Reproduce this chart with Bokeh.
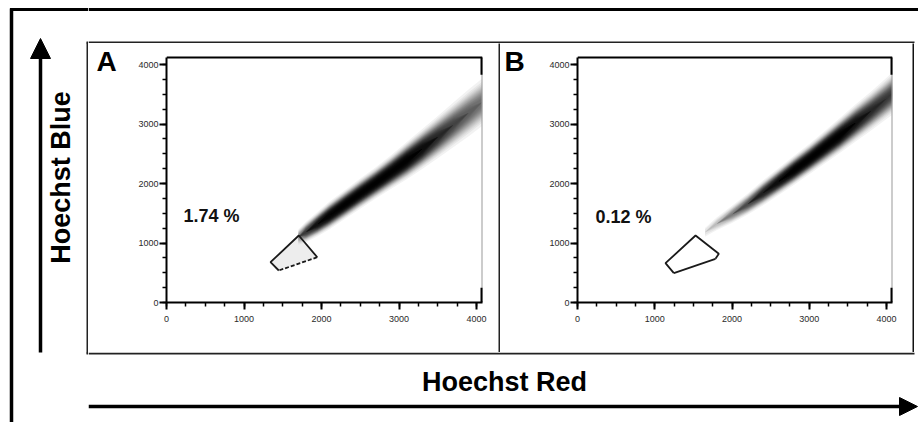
import numpy as np
from bokeh.plotting import figure
from bokeh.layouts import row, column
from bokeh.models import Range1d, LinearAxis, FixedTicker, Arrow, NormalHead
from bokeh.core.properties import value
from bokeh.embed import file_html
from bokeh.resources import INLINE

FONT = "Liberation Sans"

# ---------------- data ----------------
x_axis_title = "Hoechst Red"
y_axis_title = "Hoechst Blue"
panel_letters = ["A", "B"]
gate_percent = ["1.74 %", "0.12 %"]
axis_ticks = [0, 1000, 2000, 3000, 4000]
minor_step = 250

# Panel A
gate_a_x = [1449, 1342, 1707, 1945]
gate_a_y = [538, 677, 1126, 761]
ridge_a_x = [1700, 1800, 1950, 2100, 2300, 2500, 2700, 2900, 3100, 3300, 3500, 3700, 3900, 4077]
ridge_a_y = [1100, 1185, 1320, 1460, 1645, 1830, 2010, 2195, 2385, 2580, 2780, 2985, 3190, 3370]
ridge_a_level = [0.22, 0.45, 0.75, 0.95, 1.0, 1.0, 1.0, 1.0, 1.0, 0.8, 0.55, 0.4, 0.31, 0.26]
ridge_a_spread = [80, 95, 105, 115, 120, 125, 130, 140, 155, 170, 190, 210, 230, 240]
pct_a_pos = (219, 1462)

# Panel B
gate_b_x = [1247, 1139, 1528, 1829, 1786]
gate_b_y = [493, 661, 1126, 818, 734]
ridge_b_x = [1650, 1800, 2000, 2200, 2400, 2600, 2800, 3000, 3200, 3400, 3600, 3800, 4000, 4078]
ridge_b_y = [1180, 1320, 1480, 1650, 1840, 2030, 2220, 2410, 2610, 2810, 3020, 3220, 3430, 3515]
ridge_b_level = [0.05, 0.1, 0.22, 0.37, 0.6, 0.8, 1.0, 1.0, 1.0, 1.0, 0.75, 0.55, 0.45, 0.42]
ridge_b_spread = [70, 80, 90, 100, 110, 115, 120, 125, 135, 145, 160, 175, 190, 200]
pct_b_pos = (233, 1440)

# ---------------- layout constants ----------------
X_END = 4077      # right edge of the plotting frame
Y_BORDER = 4118   # top border line of each plot
Y_TOP = 4353      # frame top (row top)
PANEL_H = 309
DARK = "#222222"


def blank(w, h, x0, x1, y0, y1, bg="white", free=False):
    kw = dict(frame_align=False) if free else {}
    f = figure(width=w, height=h, x_range=Range1d(x0, x1), y_range=Range1d(y0, y1),
               output_backend="svg", toolbar_location=None, tools="",
               x_axis_location=None, y_axis_location=None,
               min_border=0, min_border_left=0, min_border_right=0,
               min_border_top=0, min_border_bottom=0,
               background_fill_color=bg, border_fill_color=bg,
               outline_line_color=None, **kw)
    f.grid.visible = False
    return f


def style_axis(ax, standoff):
    ax.axis_line_color = "black"
    ax.axis_line_width = 2
    ax.major_tick_line_color = "black"
    ax.major_tick_line_width = 2
    ax.major_tick_out = 7
    ax.major_tick_in = 0
    ax.minor_tick_line_color = "black"
    ax.minor_tick_line_width = 1.5
    ax.minor_tick_out = 4
    ax.minor_tick_in = 0
    ax.major_label_text_font = FONT
    ax.major_label_text_font_size = "9px"
    ax.major_label_text_color = "#2a2a2a"
    ax.major_label_standoff = standoff


def panel(width, left, right, pct, pct_pos, gx, gy, gate_fill, gate_dash, rx, ry, rlvl, rspr):
    p = figure(width=width, height=PANEL_H, x_range=Range1d(0, X_END), y_range=Range1d(0, Y_TOP),
               output_backend="svg", toolbar_location=None, tools="",
               x_axis_location=None, y_axis_location=None,
               min_border_left=left, min_border_right=right, min_border_top=0, min_border_bottom=50,
               background_fill_color="white", border_fill_color="white",
               outline_line_color=None)
    p.grid.visible = False

    minor = list(range(axis_ticks[0], axis_ticks[-1] + 1, minor_step))
    xb = LinearAxis(ticker=FixedTicker(ticks=axis_ticks, minor_ticks=minor))
    style_axis(xb, 6)
    p.add_layout(xb, "below")
    yl = LinearAxis(ticker=FixedTicker(ticks=axis_ticks, minor_ticks=minor), bounds=(0, Y_BORDER))
    style_axis(yl, 1)
    p.add_layout(yl, "left")

    # density ridge, drawn as stacked iso-density bands
    rx = np.array(rx, float)
    ry = np.array(ry, float)
    rlvl = np.array(rlvl, float)
    rspr = np.array(rspr, float)
    K = 60
    for k in range(1, K + 1):
        t = k / (K + 1)
        h = rspr * np.sqrt(np.log(np.maximum(rlvl / t, 1.0)))
        if h.max() <= 0:
            continue
        p.varea(x=rx, y1=ry - h, y2=ry + h, fill_color="black", fill_alpha=0.05)

    # plot border: black top, grey right with black corner marks
    p.segment(x0=[X_END], y0=[0], x1=[X_END], y1=[Y_BORDER], line_color="#9a9a9a", line_width=2)
    p.segment(x0=[0], y0=[Y_BORDER], x1=[X_END], y1=[Y_BORDER], line_color="black", line_width=2)
    p.segment(x0=[X_END, X_END], y0=[Y_BORDER, 0], x1=[X_END, X_END],
              y1=[Y_BORDER * 0.93, Y_BORDER * 0.06], line_color="black", line_width=4)

    # gate
    p.patch(gx, gy, fill_color="#b8b8b8", fill_alpha=gate_fill, line_color=None)
    p.line(gx, gy, line_color="#1a1a1a", line_width=1.8)
    p.line([gx[-1], gx[0]], [gy[-1], gy[0]], line_color="#1a1a1a", line_width=1.8, line_dash=gate_dash)

    p.text(x=[pct_pos[0]], y=[pct_pos[1]], text=[pct], text_font=value(FONT),
           text_font_style="bold", text_font_size="18px", text_color="#111111",
           text_align="left", text_baseline="middle")
    return p


def letter_strip(w, x0, letter, lx):
    s = blank(w, PANEL_H, x0, x0 + w, 352, 43, free=True)
    s.text(x=[lx], y=[61], text=[letter], text_font=value(FONT), text_font_size="28px",
           text_font_style="bold", text_color="black", text_align="left", text_baseline="middle")
    return s


pA = panel(368, 36, 16, gate_percent[0], pct_a_pos,
           gate_a_x, gate_a_y, 0.25, "4 2",
           ridge_a_x, ridge_a_y, ridge_a_level, ridge_a_spread)
pB = panel(372, 37, 20, gate_percent[1], pct_b_pos,
           gate_b_x, gate_b_y, 0.0, "solid",
           ridge_b_x, ridge_b_y, ridge_b_level, ridge_b_spread)
SA = letter_strip(42, 88, panel_letters[0], 96)
SB = letter_strip(40, 500, panel_letters[1], 504)

# left strip: outer frame, y arrow, y title
L = blank(88, 422, 0, 88, 422, 0)
L.segment(x0=[11], y0=[8], x1=[11], y1=[422], line_color="black", line_width=3.5)
L.segment(x0=[9.5], y0=[9], x1=[88], y1=[9], line_color="black", line_width=3)
L.segment(x0=[87], y0=[42], x1=[87], y1=[353], line_color=DARK, line_width=2)
L.segment(x0=[86], y0=[42], x1=[88], y1=[42], line_color=DARK, line_width=2)
L.segment(x0=[86], y0=[353], x1=[88], y1=[353], line_color=DARK, line_width=2)
L.add_layout(Arrow(end=NormalHead(size=20, fill_color="black", line_color="black"),
                   x_start=40, y_start=352, x_end=40, y_end=38,
                   line_color="black", line_width=3.5))
L.text(x=[60], y=[177], text=[y_axis_title], angle=np.pi / 2, text_font=value(FONT),
       text_font_style="bold", text_font_size="27px", text_color="black",
       text_align="center", text_baseline="middle")

# top strip
T = blank(830, 43, 88, 918, 43, 0)
T.segment(x0=[88], y0=[9], x1=[918], y1=[9], line_color="black", line_width=3)
T.segment(x0=[88], y0=[42], x1=[914], y1=[42], line_color=DARK, line_width=2)

# divider and right border
D = blank(2, PANEL_H, 0, 2, 0, 1, bg=DARK, free=True)
R1 = blank(2, PANEL_H, 0, 2, 0, 1, bg="#111111", free=True)
R2 = blank(4, PANEL_H, 0, 4, 0, 1, free=True)

# bottom strip: x title and arrow
Bm = blank(830, 70, 88, 918, 422, 352)
Bm.segment(x0=[88], y0=[353], x1=[914], y1=[353], line_color=DARK, line_width=2)
Bm.text(x=[504], y=[381], text=[x_axis_title], text_font=value(FONT),
        text_font_style="bold", text_font_size="27px", text_color="black",
        text_align="center", text_baseline="middle")
Bm.add_layout(Arrow(end=NormalHead(size=18, fill_color="black", line_color="black"),
                    x_start=88, y_start=406, x_end=917, y_end=406,
                    line_color="black", line_width=3.5))

panels = row(SA, pA, D, SB, pB, R1, R2)
layout = row(L, column(T, panels, Bm))

open("out.html", "w").write(file_html(layout, INLINE))
